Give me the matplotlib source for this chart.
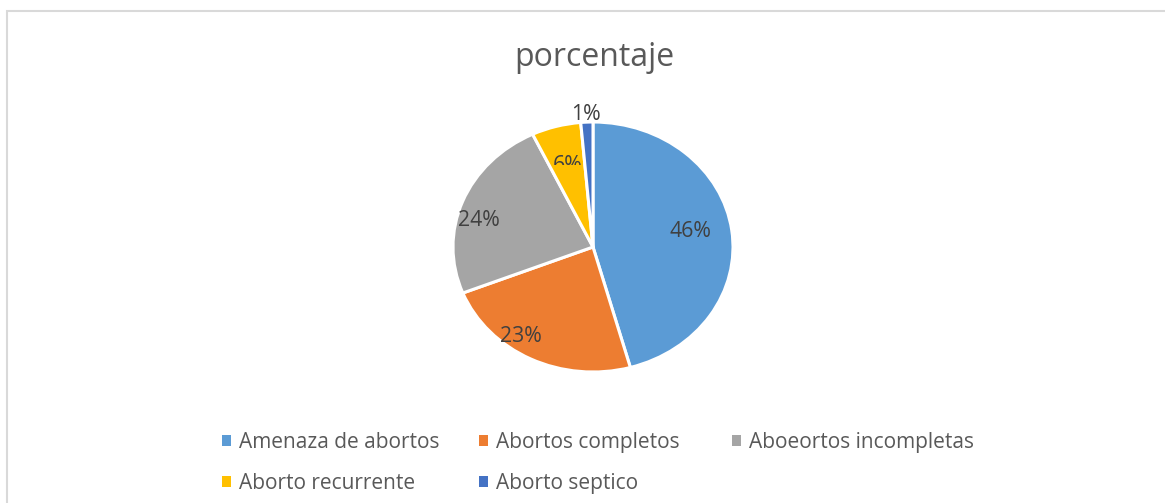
import matplotlib
matplotlib.use("Agg")
import matplotlib.pyplot as plt
from matplotlib.patches import Rectangle, Patch
import numpy as np

# ---- data ----
categories = ["Amenaza de abortos", "Abortos completos", "Aboeortos incompletas",
              "Aborto recurrente", "Aborto septico"]
values = [45.7, 23.3, 23.9, 5.7, 1.4]
title = "porcentaje"

# ---- style ----
colors = ["#5B9BD5", "#ED7D31", "#A5A5A5", "#FFC000", "#4472C4"]
label_r = [0.71, 0.87, 0.85, 0.70, 1.08]
label_dang = [4, -10, 5.5, 0, 0]
FONT = "Open Sans"
W, H = 1165, 503

fig = plt.figure(figsize=(W / 100, H / 100), dpi=100)
fig.patch.set_facecolor("white")

# chart frame
fig.add_artist(Rectangle((6.5 / W, -0.2), 1.2, 1.2 - 10.5 / H,
                         transform=fig.transFigure, fill=False,
                         edgecolor="#D9D9D9", linewidth=1.5))

cx, cy, rx, ry = 593, 247, 140, 125
ax = fig.add_axes([(cx - rx) / W, (H - cy - ry) / H, 2 * rx / W, 2 * ry / H])
wedges, _ = ax.pie(values, colors=colors, startangle=90, counterclock=False,
                   wedgeprops=dict(edgecolor="white", linewidth=2.2))
ax.set_aspect("auto")
ax.set_xlim(-1, 1)
ax.set_ylim(-1, 1)
ax.axis("off")

total = sum(values)
for i, (w, v) in enumerate(zip(wedges, values)):
    mid = (w.theta1 + w.theta2) / 2 + label_dang[i]
    x = label_r[i] * np.cos(np.deg2rad(mid))
    y = label_r[i] * np.sin(np.deg2rad(mid)) - 0.02
    t = ax.text(x, y, f"{v / total * 100:.0f}%", ha="center", va="center",
                fontsize=15.3, color="#404040", family=FONT)
    if i == 3:
        # label partially hidden (does not fit in slice)
        clip = Rectangle((-2, y), 4, 4, transform=ax.transData)
        t.set_clip_path(clip)
        t.set_clip_on(True)

fig.text(594 / W, 1 - 58 / H, title, ha="center", va="center",
         fontsize=23, color="#595959", family=FONT)

# legend: three columns, two rows
col_x = [222, 479, 732]
for c in range(3):
    idx = [k for k in range(len(categories)) if k % 3 == c]
    handles = [Patch(facecolor=colors[k], edgecolor="none") for k in idx]
    labels = [categories[k] for k in idx]
    leg = fig.legend(handles, labels, loc="upper left",
                     bbox_to_anchor=(col_x[c] / W, 1 - 432 / H),
                     frameon=False, handlelength=0.45,
                     handleheight=0.45, handletextpad=0.38, labelspacing=0.95,
                     borderpad=0, borderaxespad=0,
                     prop=dict(family=FONT, size=15))
    for txt in leg.get_texts():
        txt.set_color("#595959")

fig.savefig("out.png", dpi=100, facecolor="white")
